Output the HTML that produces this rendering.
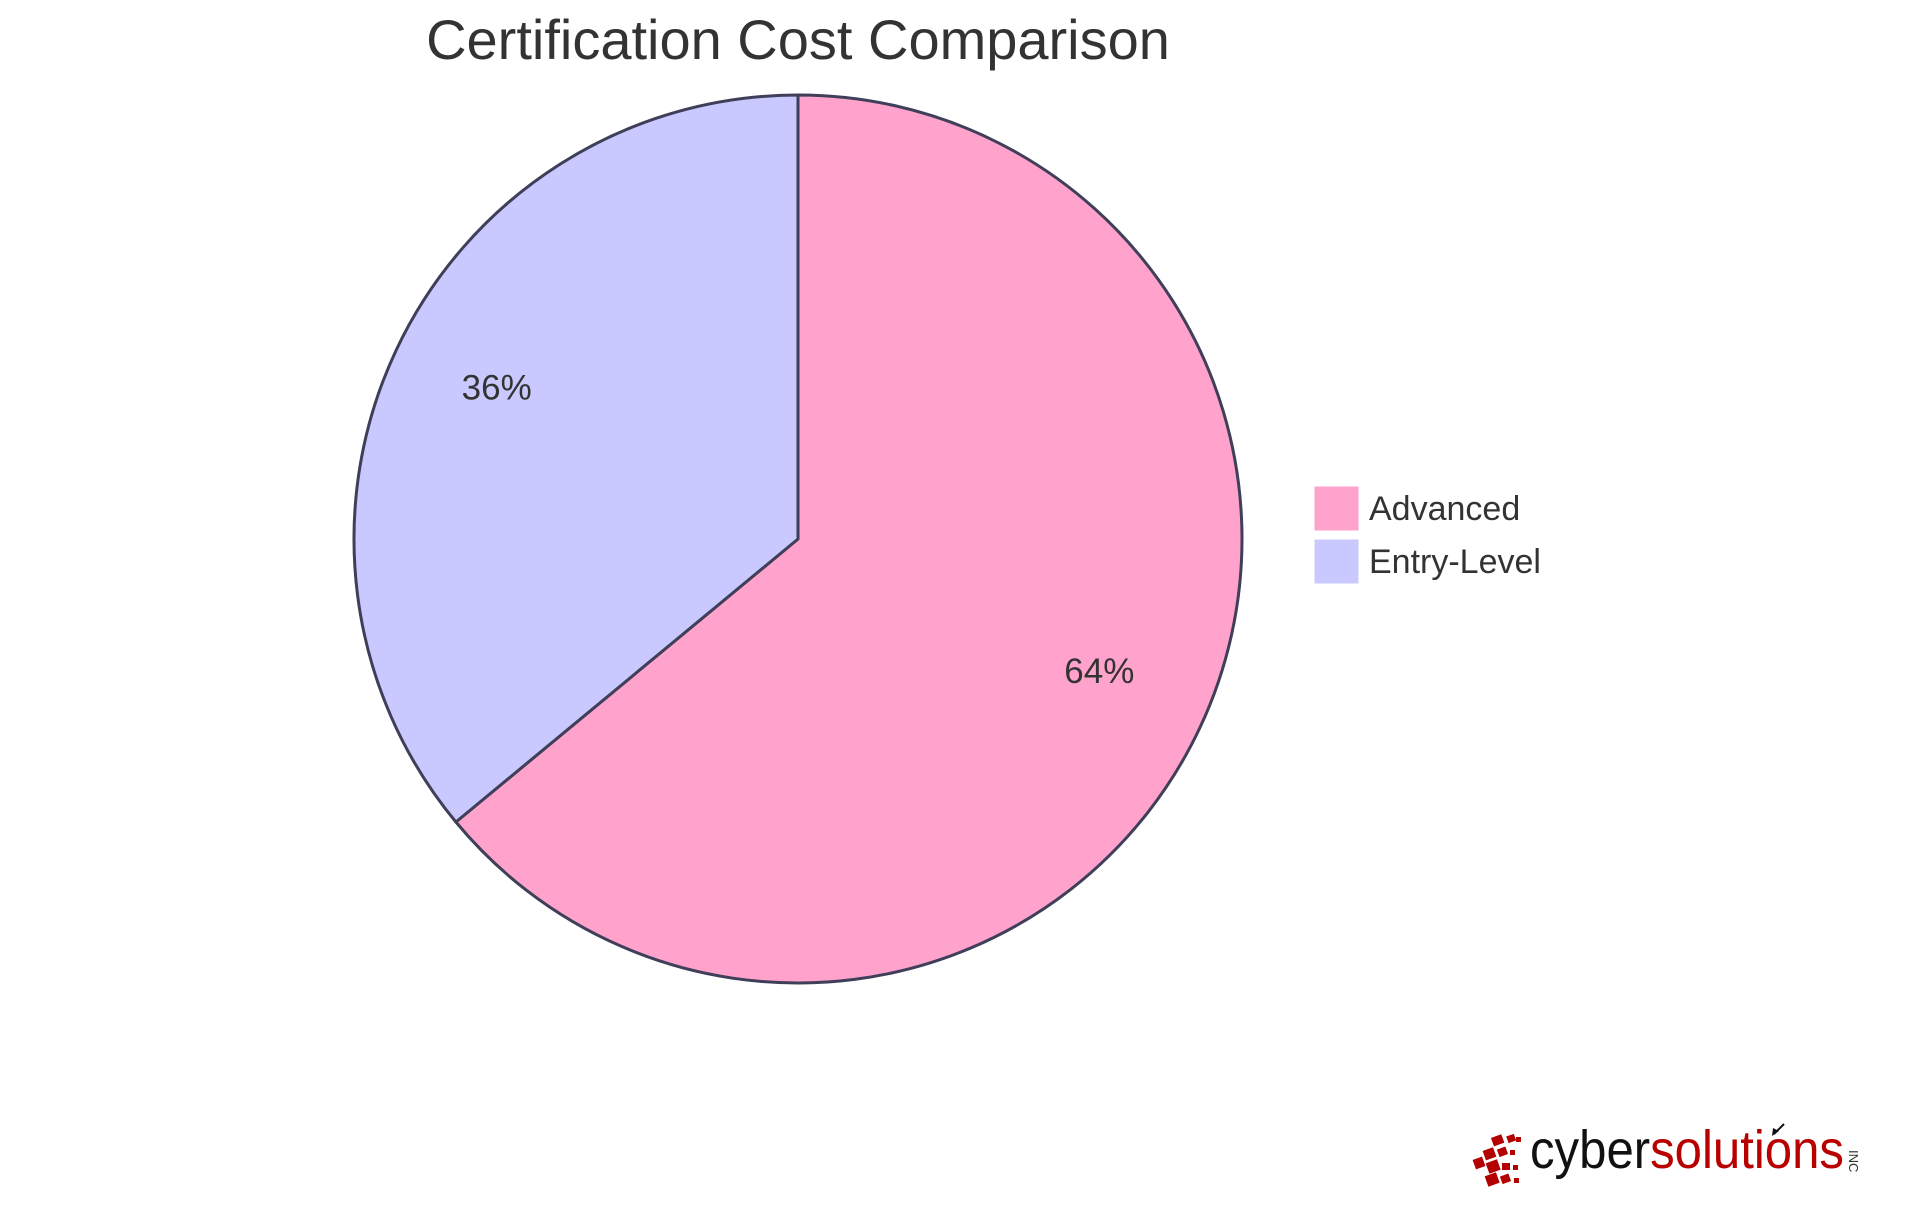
<!DOCTYPE html>
<html><head><meta charset="utf-8"><style>
html,body{margin:0;padding:0;background:#fff;}
svg{display:block;font-family:"Liberation Sans",sans-serif;}
</style></head><body>
<svg id="chart" width="1920" height="1215" viewBox="0 0 1920 1215" xmlns="http://www.w3.org/2000/svg">
<text x="798" y="59" text-anchor="middle" font-size="56" fill="#333">Certification Cost Comparison</text>
<g id="slices"></g>
<g id="labels"></g>
<g id="legend"></g>
<g>
  <g fill="#b30000">
    <rect x="1492" y="1136" width="11" height="9" transform="rotate(-20 1497 1140)"/>
    <rect x="1507" y="1135" width="8" height="7" transform="rotate(-20 1511 1138)"/>
    <rect x="1516" y="1137" width="5" height="5"/>
    <rect x="1484" y="1149" width="11" height="10" transform="rotate(-20 1489 1154)"/>
    <rect x="1498" y="1148" width="9" height="8" transform="rotate(-20 1502 1152)"/>
    <rect x="1510" y="1150" width="5" height="5"/>
    <rect x="1474" y="1158" width="10" height="10" transform="rotate(-20 1479 1163)"/>
    <rect x="1487" y="1161" width="12" height="11" transform="rotate(-20 1493 1166)"/>
    <rect x="1502" y="1163" width="8" height="7"/>
    <rect x="1513" y="1165" width="5" height="5"/>
    <rect x="1486" y="1174" width="12" height="11" transform="rotate(-20 1492 1179)"/>
    <rect x="1501" y="1175" width="9" height="8" transform="rotate(-20 1505 1179)"/>
    <rect x="1514" y="1178" width="5" height="5"/>
  </g>
  <text x="1530" y="1168" font-size="54" transform="translate(1530 0) scale(0.91 1) translate(-1530 0)" fill="#111">cyber<tspan fill="#b80000">solutions</tspan></text>
  <text x="1849" y="1150" font-size="13" fill="#333" transform="rotate(90 1849 1150)">INC</text>
  <path d="M1774 1134 L1784 1124" stroke="#111" stroke-width="2"/>
  <path d="M1772 1136 L1773 1128 L1779 1131 Z" fill="#111"/>
</g>
<script>
const categories = ["Advanced", "Entry-Level"];
const values = [64, 36];
const colors = ["#FFA2CC", "#C9C9FF"];
const ns = "http://www.w3.org/2000/svg";
const cx = 798, cy = 539, r = 444;
const total = values.reduce((a,b)=>a+b,0);
const slices = document.getElementById('slices');
const labels = document.getElementById('labels');
const legend = document.getElementById('legend');
let ang = 0;
function pt(a, rr){ return [cx + Math.sin(a)*rr, cy - Math.cos(a)*rr]; }
values.forEach((v,i)=>{
  const a0 = ang, a1 = ang + v/total*2*Math.PI;
  ang = a1;
  const p0 = pt(a0,r), p1 = pt(a1,r);
  const large = (a1-a0) > Math.PI ? 1 : 0;
  const path = document.createElementNS(ns,'path');
  path.setAttribute('d', `M${cx},${cy} L${p0[0]},${p0[1]} A${r},${r} 0 ${large} 1 ${p1[0]},${p1[1]} Z`);
  path.setAttribute('fill', colors[i]);
  path.setAttribute('stroke', '#3f3f5a');
  path.setAttribute('stroke-width', '3');
  path.setAttribute('stroke-linejoin', 'round');
  
  
  slices.appendChild(path);
  const mid = (a0+a1)/2;
  const lp = pt(mid, r*0.75);
  const t = document.createElementNS(ns,'text');
  t.setAttribute('x', lp[0]); t.setAttribute('y', lp[1] - 7);
  t.setAttribute('text-anchor','middle'); t.setAttribute('dominant-baseline','middle');
  t.setAttribute('font-size','35'); t.setAttribute('fill','#333');
  
  
  t.textContent = Math.round(v/total*100) + '%';
  labels.appendChild(t);
  const g = document.createElementNS(ns,'g');
  
  
  const y = 486 + i*53;
  const rect = document.createElementNS(ns,'rect');
  rect.setAttribute('x',1314); rect.setAttribute('y',y);
  rect.setAttribute('width',45); rect.setAttribute('height',45);
  rect.setAttribute('fill',colors[i]);
  rect.setAttribute('stroke','#fff'); rect.setAttribute('stroke-width','1');
  g.appendChild(rect);
  const lt = document.createElementNS(ns,'text');
  lt.setAttribute('x',1369); lt.setAttribute('y',y+34);
  lt.setAttribute('font-size','34'); lt.setAttribute('fill','#333');
  lt.textContent = categories[i];
  g.appendChild(lt);
  legend.appendChild(g);
});
</script>
</svg>
</body></html>
